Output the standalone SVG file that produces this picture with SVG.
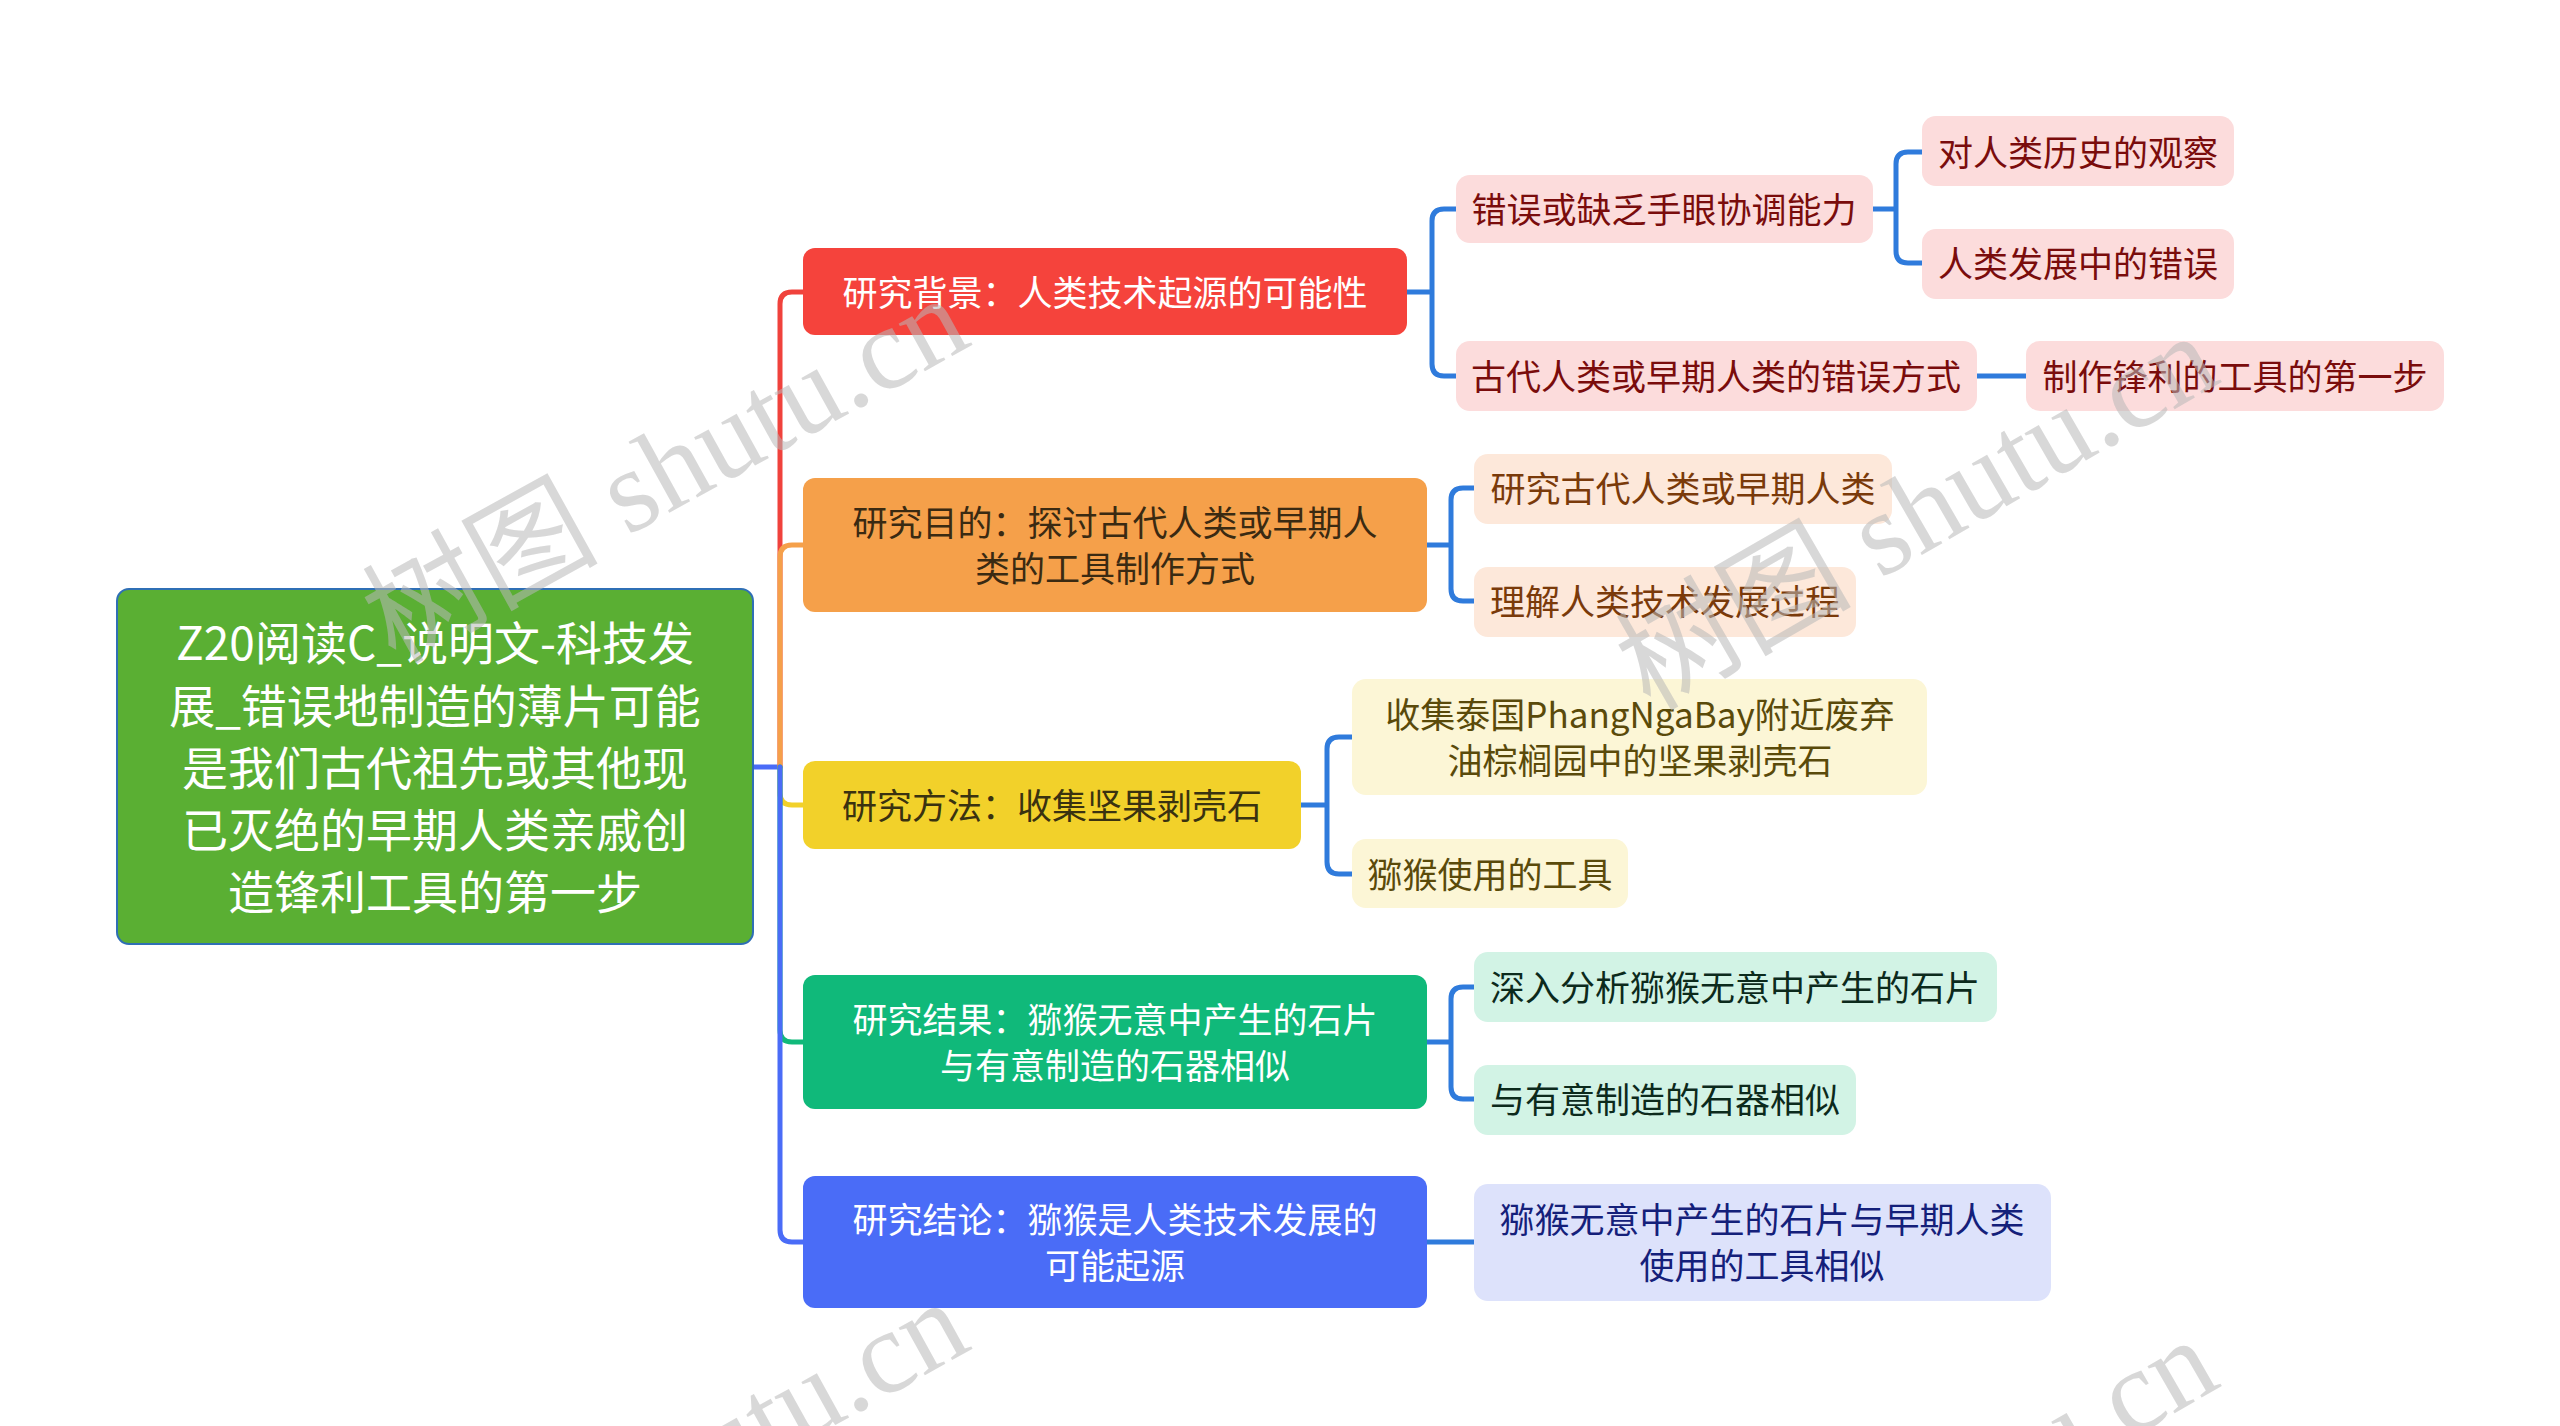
<svg xmlns="http://www.w3.org/2000/svg" width="2560" height="1426" viewBox="0 0 2560 1426">
<style>
text{font-family:"Noto Sans CJK SC","Noto Sans",sans-serif;}
.t1{font-size:35px;text-anchor:middle;}
.t0{font-size:46px;text-anchor:middle;fill:#ffffff;}
.c{fill:none;stroke-width:5;stroke-linecap:round;stroke-linejoin:round;}
.cb{stroke:#2f7bdc;}
.wm{font-family:"Liberation Serif","Noto Sans CJK SC",serif;font-size:118px;fill:#b8b8b8;fill-opacity:0.55;}
</style>
<rect width="2560" height="1426" fill="#ffffff"/>
<g id="connectors">
<path class="c" stroke="#4a6cf7" d="M753,767 H780"/>
<path class="c" stroke="#f0423c" d="M780,767 V304 Q780,292 792,292 H803"/>
<path class="c" stroke="#f5a04a" d="M780,767 V557 Q780,545 792,545 H803"/>
<path class="c" stroke="#f2d12a" d="M780,767 V793 Q780,805 792,805 H803"/>
<path class="c" stroke="#10b97a" d="M780,767 V1030 Q780,1042 792,1042 H803"/>
<path class="c" stroke="#4a6cf7" d="M780,767 V1230 Q780,1242 792,1242 H803"/>
<path class="c cb" d="M1407,292 H1432 M1432,292 V221 Q1432,209 1444,209 H1456 M1432,292 V364 Q1432,376 1444,376 H1456"/>
<path class="c cb" d="M1873,209 H1896 M1896,209 V164 Q1896,152 1908,152 H1922 M1896,209 V251 Q1896,263 1908,263 H1922"/>
<path class="c cb" d="M1977,376 H2026"/>
<path class="c cb" d="M1427,545 H1451 M1451,545 V500 Q1451,488 1463,488 H1474 M1451,545 V589 Q1451,601 1463,601 H1474"/>
<path class="c cb" d="M1301,805 H1327 M1327,805 V749 Q1327,737 1339,737 H1352 M1327,805 V862 Q1327,874 1339,874 H1352"/>
<path class="c cb" d="M1427,1042 H1451 M1451,1042 V999 Q1451,987 1463,987 H1474 M1451,1042 V1087 Q1451,1099 1463,1099 H1474"/>
<path class="c cb" d="M1427,1242 H1474"/>
</g>
<g id="root">
<rect x="117" y="589" width="636" height="355" rx="12" fill="#5aaf33" stroke="#2f6fb5" stroke-width="2"/>
<text class="t0"><tspan x="435" y="660">Z20阅读C_说明文-科技发</tspan><tspan x="435" y="723">展_错误地制造的薄片可能</tspan><tspan x="435" y="785">是我们古代祖先或其他现</tspan><tspan x="435" y="847">已灭绝的早期人类亲戚创</tspan><tspan x="435" y="909">造锋利工具的第一步</tspan></text>
</g>
<g id="n-bg">
<rect x="803" y="248" width="604" height="87" rx="12" fill="#f5433c"/>
<text class="t1" x="1105" y="306" fill="#ffffff">研究背景：人类技术起源的可能性</text>
</g>
<g id="n-purpose">
<rect x="803" y="478" width="624" height="134" rx="12" fill="#f5a04a"/>
<text class="t1" fill="#3a2a12"><tspan x="1115" y="536">研究目的：探讨古代人类或早期人</tspan><tspan x="1115" y="582">类的工具制作方式</tspan></text>
</g>
<g id="n-method">
<rect x="803" y="761" width="498" height="88" rx="12" fill="#f2d12a"/>
<text class="t1" x="1052" y="819" fill="#3a3210">研究方法：收集坚果剥壳石</text>
</g>
<g id="n-result">
<rect x="803" y="975" width="624" height="134" rx="12" fill="#10b97a"/>
<text class="t1" fill="#ffffff"><tspan x="1115" y="1033">研究结果：猕猴无意中产生的石片</tspan><tspan x="1115" y="1079">与有意制造的石器相似</tspan></text>
</g>
<g id="n-conclusion">
<rect x="803" y="1176" width="624" height="132" rx="12" fill="#4a6cf7"/>
<text class="t1" fill="#ffffff"><tspan x="1115" y="1233">研究结论：猕猴是人类技术发展的</tspan><tspan x="1115" y="1279">可能起源</tspan></text>
</g>
<g id="n-bg-1">
<rect x="1456" y="175" width="417" height="68" rx="14" fill="#fcdcdc"/>
<text class="t1" x="1664" y="223" fill="#7a0c0c">错误或缺乏手眼协调能力</text>
</g>
<g id="n-bg-1-1">
<rect x="1922" y="116" width="312" height="70" rx="14" fill="#fcdcdc"/>
<text class="t1" x="2078" y="166" fill="#7a0c0c">对人类历史的观察</text>
</g>
<g id="n-bg-1-2">
<rect x="1922" y="229" width="312" height="70" rx="14" fill="#fcdcdc"/>
<text class="t1" x="2078" y="277" fill="#7a0c0c">人类发展中的错误</text>
</g>
<g id="n-bg-2">
<rect x="1456" y="341" width="521" height="70" rx="14" fill="#fcdcdc"/>
<text class="t1" x="1716" y="390" fill="#7a0c0c">古代人类或早期人类的错误方式</text>
</g>
<g id="n-bg-2-1">
<rect x="2026" y="341" width="418" height="70" rx="14" fill="#fcdcdc"/>
<text class="t1" x="2235" y="390" fill="#7a0c0c">制作锋利的工具的第一步</text>
</g>
<g id="n-purpose-1">
<rect x="1474" y="454" width="418" height="70" rx="14" fill="#fde8da"/>
<text class="t1" x="1683" y="502" fill="#7a3a0a">研究古代人类或早期人类</text>
</g>
<g id="n-purpose-2">
<rect x="1474" y="567" width="382" height="70" rx="14" fill="#fde8da"/>
<text class="t1" x="1665" y="615" fill="#7a3a0a">理解人类技术发展过程</text>
</g>
<g id="n-method-1">
<rect x="1352" y="679" width="575" height="116" rx="14" fill="#fcf6d6"/>
<text class="t1" fill="#5a4a0a"><tspan x="1640" y="728">收集泰国PhangNgaBay附近废弃</tspan><tspan x="1640" y="774">油棕榈园中的坚果剥壳石</tspan></text>
</g>
<g id="n-method-2">
<rect x="1352" y="839" width="276" height="69" rx="14" fill="#fcf6d6"/>
<text class="t1" x="1490" y="888" fill="#5a4a0a">猕猴使用的工具</text>
</g>
<g id="n-result-1">
<rect x="1474" y="952" width="523" height="70" rx="14" fill="#d2f3e5"/>
<text class="t1" x="1735" y="1001" fill="#0c2a1c">深入分析猕猴无意中产生的石片</text>
</g>
<g id="n-result-2">
<rect x="1474" y="1065" width="382" height="70" rx="14" fill="#d2f3e5"/>
<text class="t1" x="1665" y="1113" fill="#0c2a1c">与有意制造的石器相似</text>
</g>
<g id="n-conclusion-1">
<rect x="1474" y="1184" width="577" height="117" rx="14" fill="#dde2fb"/>
<text class="t1" fill="#14207a"><tspan x="1762" y="1233">猕猴无意中产生的石片与早期人类</tspan><tspan x="1762" y="1279">使用的工具相似</tspan></text>
</g>
<g id="watermark">
<text class="wm" transform="translate(395,665) rotate(-29)">树图 shutu.cn</text>
<text class="wm" transform="translate(1650,712) rotate(-30)">树图 shutu.cn</text>
<text class="wm" transform="translate(395,1669) rotate(-29)">树图 shutu.cn</text>
<text class="wm" transform="translate(1650,1716) rotate(-30)">树图 shutu.cn</text>
</g>
</svg>
